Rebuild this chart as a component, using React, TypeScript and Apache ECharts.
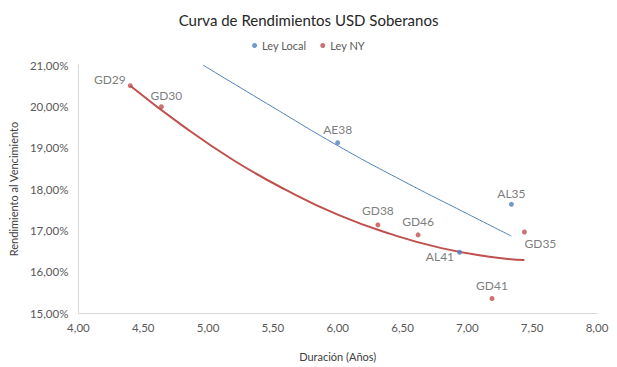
import React, { useEffect, useRef } from "react";
import * as echarts from "echarts";

const titleText = "Curva de Rendimientos USD Soberanos";
const xAxisName = "Duración (Años)";
const yAxisName = "Rendimiento al Vencimiento";

const localNames = ["AE38", "AL35", "AL41"];
const localDur = [6.0, 7.34, 6.94];
const localYield = [19.12, 17.63, 16.47];

const nyNames = ["GD29", "GD30", "GD38", "GD46", "GD35", "GD41"];
const nyDur = [4.4, 4.64, 6.31, 6.62, 7.44, 7.19];
const nyYield = [20.5, 19.99, 17.13, 16.89, 16.96, 15.35];

// trend lines
const localTrendX = [4.96, 5.5, 6.0, 6.5, 7.0, 7.34];
const localTrendY = [21.0, 19.98, 19.05, 18.2, 17.4, 16.86];
const nyTrendX = [4.4, 4.8, 5.2, 5.6, 6.0, 6.4, 6.8, 7.2, 7.44];
const nyTrendY = [20.5, 19.54, 18.69, 17.98, 17.38, 16.92, 16.57, 16.35, 16.28];

const labelPlacement: Record<string, any> = {
  GD29: { position: "left", distance: 2, offset: [0, -6] },
  GD30: { position: "top", distance: 3, offset: [5, 0] },
  AE38: { position: "top", distance: 5 },
  AL35: { position: "top", distance: 2 },
  GD38: { position: "top", distance: 6 },
  GD46: { position: "top", distance: 5 },
  GD35: { position: "bottom", distance: 3, offset: [16, 0] },
  AL41: { position: "left", distance: 3, offset: [0, 4] },
  GD41: { position: "top", distance: 5 },
};

const BLUE = "#4F81BD";
const RED = "#C0504D";
const FONT = "Lato";
const TXT = "#595959";

const fmt = (v: number, pct: boolean) =>
  v.toFixed(2).replace(".", ",") + (pct ? "%" : "");

export default function App() {
  const ref = useRef<HTMLDivElement>(null);
  useEffect(() => {
    if (!ref.current) return;
    const chart = echarts.init(ref.current, undefined, { renderer: "svg" });
    const mk = (names: string[], xs: number[], ys: number[]) =>
      names.map((n, i) => ({
        name: n,
        value: [xs[i], ys[i]],
        label: { show: true, formatter: n, ...labelPlacement[n] },
      }));
    chart.setOption({
      animation: false,
      backgroundColor: "#ffffff",
      textStyle: { fontFamily: FONT },
      title: {
        text: titleText,
        left: "center",
        top: 7,
        textStyle: { fontFamily: FONT, fontSize: 15, fontWeight: "normal", color: "#262626" },
      },
      legend: {
        data: ["Ley Local", "Ley NY"],
        top: 35,
        left: "center",
        icon: "circle",
        itemWidth: 5,
        itemHeight: 5,
        itemGap: 14,
        textStyle: { fontFamily: FONT, fontSize: 11, color: TXT },
      },
      grid: { left: 77, right: 20, top: 65, bottom: 51, containLabel: false },
      xAxis: {
        type: "value",
        min: 4,
        max: 8,
        interval: 0.5,
        name: xAxisName,
        nameLocation: "middle",
        nameGap: 38,
        nameTextStyle: { fontFamily: FONT, fontSize: 11, color: "#404040" },
        axisLine: { show: true, lineStyle: { color: "#d9d9d9" } },
        axisTick: { show: false },
        splitLine: { show: false },
        axisLabel: { color: TXT, fontSize: 11.5, fontFamily: FONT, margin: 8, formatter: (v: number) => fmt(v, false) },
      },
      yAxis: {
        type: "value",
        min: 15,
        max: 21,
        interval: 1,
        name: yAxisName,
        nameLocation: "middle",
        nameGap: 49,
        nameTextStyle: { fontFamily: FONT, fontSize: 11, color: "#404040" },
        axisLine: { show: true, lineStyle: { color: "#d9d9d9" } },
        axisTick: { show: false },
        splitLine: { show: false },
        axisLabel: { color: TXT, fontSize: 11.5, fontFamily: FONT, margin: 10, formatter: (v: number) => fmt(v, true) },
      },
      series: [
        {
          name: "Ley Local trend",
          type: "line",
          smooth: true,
          showSymbol: false,
          silent: true,
          lineStyle: { color: BLUE, width: 1 },
          data: localTrendX.map((x, i) => [x, localTrendY[i]]),
          z: 1,
        },
        {
          name: "Ley NY trend",
          type: "line",
          smooth: true,
          showSymbol: false,
          silent: true,
          lineStyle: { color: RED, width: 2 },
          data: nyTrendX.map((x, i) => [x, nyTrendY[i]]),
          z: 1,
        },
        {
          name: "Ley Local",
          type: "scatter",
          symbolSize: 5,
          itemStyle: { color: BLUE },
          label: { color: TXT, fontSize: 12, fontFamily: FONT },
          data: mk(localNames, localDur, localYield),
          z: 3,
        },
        {
          name: "Ley NY",
          type: "scatter",
          symbolSize: 5,
          itemStyle: { color: RED },
          label: { color: TXT, fontSize: 12, fontFamily: FONT },
          data: mk(nyNames, nyDur, nyYield),
          z: 3,
        },
      ],
    });
    return () => chart.dispose();
  }, []);
  return (
    <div
      ref={ref}
      style={{ position: "fixed", left: 0, top: 0, width: 617, height: 367 }}
    />
  );
}
